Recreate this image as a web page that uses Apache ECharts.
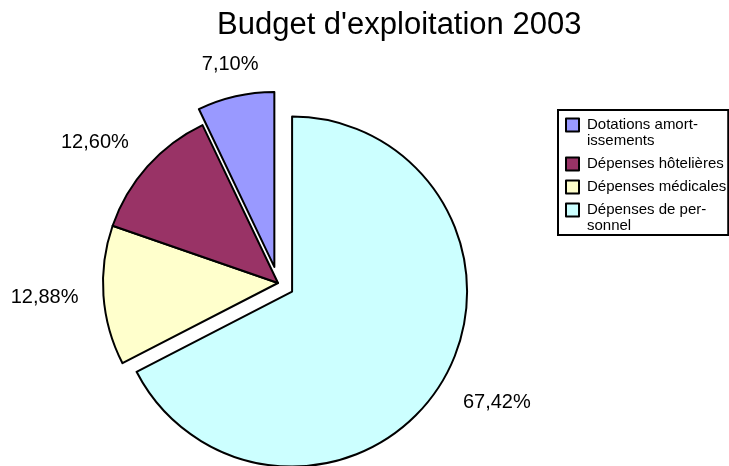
<!DOCTYPE html>
<html>
<head>
<meta charset="utf-8">
<script src="https://cdn.jsdelivr.net/npm/echarts@6/dist/echarts.min.js"></script>
<style>
  html, body { margin: 0; padding: 0; background: #fff; }
  #chart { width: 729px; height: 466px; }
</style>
</head>
<body>
<div id="chart"></div>
<script>
// Budget d'exploitation 2003 (parts en %)
const categories = ['Dépenses de personnel', 'Dépenses médicales', 'Dépenses hôtelières', 'Dotations amortissements'];
const values = [67.42, 12.88, 12.60, 7.10];
const exploded = [true, false, false, true];
const colors = ['#CCFFFF', '#FFFFCC', '#993366', '#9999FF'];

// légende dans l'ordre inverse, avec les césures de l'original
const legendOrder = ['Dotations amortissements', 'Dépenses hôtelières', 'Dépenses médicales', 'Dépenses de personnel'];
const legendLines = {
  'Dotations amortissements': ['Dotations amort-', 'issements'],
  'Dépenses hôtelières': ['Dépenses hôtelières'],
  'Dépenses médicales': ['Dépenses médicales'],
  'Dépenses de personnel': ['Dépenses de per-', 'sonnel']
};

const FONT = '"Liberation Sans", Arial, sans-serif';
const CENTER = [278, 283];
const RADIUS = 175;
const OFFSET = 16.5;
const LABEL_GAP = 25;

const total = values.reduce((a, b) => a + b, 0);

// étiquettes à la manière d'Excel : point d'ancrage sur la bissectrice,
// le coin de l'étiquette le plus proche du disque posé sur ce point
function excelLabel(params) {
  const i = params.dataIndex;
  let cum = 0;
  for (let k = 0; k < i; k++) cum += values[k];
  const mid = (90 - 360 * (cum + values[i] / 2) / total) * Math.PI / 180;
  const dx = Math.cos(mid), dy = -Math.sin(mid);
  const dist = (exploded[i] ? OFFSET : 0) + RADIUS + LABEL_GAP;
  const sx = Math.abs(dx) < 0.5 ? 0 : Math.sign(dx);
  const sy = Math.abs(dy) < 0.5 ? 0 : Math.sign(dy);
  const r = params.labelRect;
  return {
    x: CENTER[0] + dx * dist + sx * r.width / 2,
    y: CENTER[1] + dy * dist + sy * r.height * 0.35,
    align: 'center',
    verticalAlign: 'middle'
  };
}

function legendItem(name, idx) {
  // l'entrée 2 a besoin d'un bloc plus haut pour l'espacement
  if (idx === 1) return { name, textStyle: { padding: [16, 0, 16, 3] } };
  return { name };
}

const sliceData = categories.map((name, i) => ({
  name,
  value: values[i],
  selected: exploded[i],
  itemStyle: { color: colors[i] }
}));

const chart = echarts.init(document.getElementById('chart'));
chart.setOption({
  animation: false,
  backgroundColor: '#fff',
  title: {
    text: "Budget d'exploitation 2003",
    left: 217,
    top: 10,
    padding: 0,
    textStyle: { fontFamily: FONT, fontSize: 31, fontWeight: 'normal', color: '#000' }
  },
  legend: {
    orient: 'vertical',
    left: 558,
    top: 110,
    padding: [-9, 2, 1, 7],
    itemWidth: 13,
    itemHeight: 13,
    itemGap: -9,
    icon: 'rect',
    selectedMode: false,
    borderColor: '#000',
    borderWidth: 2,
    itemStyle: { borderColor: '#000', borderWidth: 2 },
    textStyle: { fontFamily: FONT, fontSize: 15, lineHeight: 16, color: '#000', padding: [0, 0, 0, 3] },
    // texte centré sur la pastille : une ligne vide en tête
    // garde la 1re ligne en face de la pastille
    formatter: name => {
      const lines = legendLines[name];
      return lines.length > 1 ? '\n' + lines.join('\n') : lines[0];
    },
    data: legendOrder.map(legendItem)
  },
  series: [{
    type: 'pie',
    center: CENTER,
    radius: RADIUS,
    startAngle: 90,
    clockwise: true,
    selectedMode: 'multiple',
    selectedOffset: OFFSET,
    emphasis: { disabled: true },
    itemStyle: { borderColor: '#000', borderWidth: 2 },
    select: { itemStyle: { borderColor: '#000', borderWidth: 2 } },
    label: { show: false },
    labelLine: { show: false },
    data: sliceData
  }, {
    // même découpage, invisible, qui ne porte que les pourcentages
    type: 'pie',
    center: CENTER,
    radius: RADIUS,
    startAngle: 90,
    clockwise: true,
    silent: true,
    avoidLabelOverlap: false,
    emphasis: { disabled: true },
    itemStyle: { color: 'rgba(0,0,0,0)', borderWidth: 0 },
    label: {
      position: 'outside',
      fontFamily: FONT,
      fontSize: 20,
      color: '#000',
      formatter: p => p.value.toFixed(2).replace('.', ',') + '%'
    },
    labelLine: { show: false },
    labelLayout: excelLabel,
    data: categories.map((name, i) => ({ name, value: values[i] }))
  }]
});
</script>
</body>
</html>
